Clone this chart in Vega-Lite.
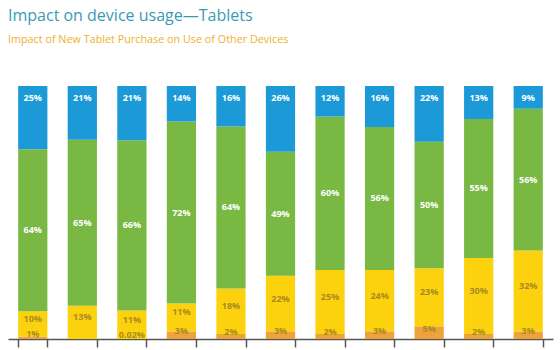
{
  "$schema": "https://vega.github.io/schema/vega-lite/v6.json",
  "width": 545,
  "height": 253,
  "padding": {"left": 8, "top": 8, "right": 7, "bottom": 0},
  "title": {
    "text": "Impact on device usage—Tablets",
    "subtitle": "Impact of New Tablet Purchase on Use of Other Devices",
    "anchor": "start",
    "frame": "bounds",
    "font": "Open Sans",
    "fontSize": 16,
    "fontWeight": "normal",
    "color": "#3b9ab3",
    "subtitleFont": "Open Sans",
    "subtitleFontSize": 10.8,
    "subtitleColor": "#f0b02a",
    "subtitlePadding": 10,
    "offset": 41
  },
  "data": {
    "values": [
      {"bar": 1, "seg": "a", "order": 1, "value": 1}, {"bar": 1, "seg": "b", "order": 2, "value": 10}, {"bar": 1, "seg": "c", "order": 3, "value": 64}, {"bar": 1, "seg": "d", "order": 4, "value": 25},
      {"bar": 2, "seg": "a", "order": 1, "value": 0}, {"bar": 2, "seg": "b", "order": 2, "value": 13}, {"bar": 2, "seg": "c", "order": 3, "value": 65}, {"bar": 2, "seg": "d", "order": 4, "value": 21},
      {"bar": 3, "seg": "a", "order": 1, "value": 0.02}, {"bar": 3, "seg": "b", "order": 2, "value": 11}, {"bar": 3, "seg": "c", "order": 3, "value": 66}, {"bar": 3, "seg": "d", "order": 4, "value": 21},
      {"bar": 4, "seg": "a", "order": 1, "value": 3}, {"bar": 4, "seg": "b", "order": 2, "value": 11}, {"bar": 4, "seg": "c", "order": 3, "value": 72}, {"bar": 4, "seg": "d", "order": 4, "value": 14},
      {"bar": 5, "seg": "a", "order": 1, "value": 2}, {"bar": 5, "seg": "b", "order": 2, "value": 18}, {"bar": 5, "seg": "c", "order": 3, "value": 64}, {"bar": 5, "seg": "d", "order": 4, "value": 16},
      {"bar": 6, "seg": "a", "order": 1, "value": 3}, {"bar": 6, "seg": "b", "order": 2, "value": 22}, {"bar": 6, "seg": "c", "order": 3, "value": 49}, {"bar": 6, "seg": "d", "order": 4, "value": 26},
      {"bar": 7, "seg": "a", "order": 1, "value": 2}, {"bar": 7, "seg": "b", "order": 2, "value": 25}, {"bar": 7, "seg": "c", "order": 3, "value": 60}, {"bar": 7, "seg": "d", "order": 4, "value": 12},
      {"bar": 8, "seg": "a", "order": 1, "value": 3}, {"bar": 8, "seg": "b", "order": 2, "value": 24}, {"bar": 8, "seg": "c", "order": 3, "value": 56}, {"bar": 8, "seg": "d", "order": 4, "value": 16},
      {"bar": 9, "seg": "a", "order": 1, "value": 5}, {"bar": 9, "seg": "b", "order": 2, "value": 23}, {"bar": 9, "seg": "c", "order": 3, "value": 50}, {"bar": 9, "seg": "d", "order": 4, "value": 22},
      {"bar": 10, "seg": "a", "order": 1, "value": 2}, {"bar": 10, "seg": "b", "order": 2, "value": 30}, {"bar": 10, "seg": "c", "order": 3, "value": 55}, {"bar": 10, "seg": "d", "order": 4, "value": 13},
      {"bar": 11, "seg": "a", "order": 1, "value": 3}, {"bar": 11, "seg": "b", "order": 2, "value": 32}, {"bar": 11, "seg": "c", "order": 3, "value": 56}, {"bar": 11, "seg": "d", "order": 4, "value": 9}
    ]
  },
  "transform": [
    {"stack": "value", "groupby": ["bar"], "sort": [{"field": "order"}], "offset": "normalize", "as": ["y0", "y1"]},
    {"calculate": "(datum.y0 + datum.y1) / 2", "as": "ymid"},
    {"calculate": "datum.value + '%'", "as": "label"}
  ],
  "encoding": {
    "x": {
      "field": "bar", "type": "ordinal",
      "scale": {"paddingInner": 0.41, "paddingOuter": 0.205},
      "axis": {"title": null, "labels": false, "domainColor": "#555555", "domainWidth": 1.5, "tickColor": "#555555", "tickWidth": 1.5, "tickSize": 8, "tickBand": "extent"}
    }
  },
  "layer": [
    {
      "mark": {"type": "bar"},
      "encoding": {
        "y": {"field": "y0", "type": "quantitative", "scale": {"domain": [0, 1]}, "axis": null},
        "y2": {"field": "y1"},
        "color": {
          "field": "seg", "type": "nominal", "legend": null,
          "scale": {"domain": ["a", "b", "c", "d"], "range": ["#eda23a", "#fcd20f", "#78b843", "#1b9ad7"]}
        }
      }
    },
    {
      "transform": [{"filter": "datum.seg == 'c'"}],
      "mark": {"type": "text", "font": "Open Sans", "fontSize": 9, "fontWeight": "bold", "baseline": "middle", "color": "#ffffff"},
      "encoding": {
        "y": {"field": "ymid", "type": "quantitative"},
        "text": {"field": "label"}
      }
    },
    {
      "transform": [{"filter": "datum.seg == 'b'"}],
      "mark": {"type": "text", "font": "Open Sans", "fontSize": 9, "fontWeight": "bold", "baseline": "middle", "dy": -5, "color": "#a88a20"},
      "encoding": {
        "y": {"field": "ymid", "type": "quantitative"},
        "text": {"field": "label"}
      }
    },
    {
      "transform": [{"filter": "datum.seg == 'a' && datum.value > 0"}],
      "mark": {"type": "text", "font": "Open Sans", "fontSize": 9, "fontWeight": "bold", "baseline": "middle", "dy": -4, "color": "#a88a20"},
      "encoding": {
        "y": {"field": "ymid", "type": "quantitative"},
        "text": {"field": "label"}
      }
    },
    {
      "transform": [{"filter": "datum.seg == 'd'"}],
      "mark": {"type": "text", "font": "Open Sans", "fontSize": 9, "fontWeight": "bold", "baseline": "middle", "dy": 12, "color": "#ffffff"},
      "encoding": {
        "y": {"field": "y1", "type": "quantitative"},
        "text": {"field": "label"}
      }
    }
  ],
  "config": {"view": {"stroke": null}, "background": "#ffffff"}
}
